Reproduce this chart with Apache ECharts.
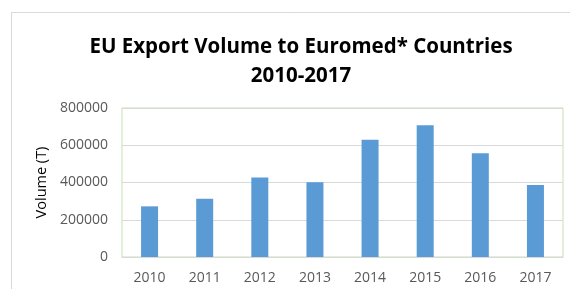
<!DOCTYPE html>
<html><head><meta charset="utf-8">
<script src="https://cdn.jsdelivr.net/npm/echarts@6/dist/echarts.min.js"></script>
<style>html,body{margin:0;padding:0;background:#fff}#c{width:570px;height:289px}</style>
</head><body><div id="c"></div>
<script>
const categories = ['2010','2011','2012','2013','2014','2015','2016','2017'];
const volumes = [272000, 313000, 427000, 402000, 630000, 707000, 557000, 387000];
const titleLines = ['EU Export Volume to Euromed* Countries', '2010-2017'];
const yAxisName = 'Volume (T)';

const chart = echarts.init(document.getElementById('c'), null, {renderer: 'canvas'});
chart.setOption({
  animation: false,
  backgroundColor: '#fff',
  graphic: [{
    type: 'rect', z: -1, silent: true,
    shape: {x: 11.5, y: 12.5, width: 600, height: 300},
    style: {fill: '#fff', stroke: '#D9D9D9', lineWidth: 1}
  }],
  title: {
    text: titleLines.join('\n'),
    left: 296, textAlign: 'center', top: 28,
    textStyle: {fontFamily: 'Open Sans', fontWeight: 'bold', fontSize: 20.5, color: '#000', lineHeight: 29}
  },
  grid: {left: 122, right: 7, top: 108, bottom: 32, show: true, borderColor: '#C5E0B4', borderWidth: 1, containLabel: false},
  xAxis: {
    type: 'category', data: categories,
    axisLine: {lineStyle: {color: '#D9D9D9'}},
    axisTick: {show: false},
    axisLabel: {color: '#595959', fontFamily: 'Open Sans', fontSize: 14, margin: 14}
  },
  yAxis: {
    type: 'value', min: 0, max: 800000, interval: 200000,
    name: yAxisName, nameLocation: 'middle', nameGap: 71,
    nameTextStyle: {color: '#000', fontFamily: 'Open Sans', fontSize: 14.5},
    axisLine: {show: false}, axisTick: {show: false},
    axisLabel: {color: '#595959', fontFamily: 'Open Sans', fontSize: 14, margin: 14, formatter: v => String(v)},
    splitLine: {lineStyle: {color: '#D9D9D9'}}
  },
  series: [{
    type: 'bar', data: volumes, barWidth: 17,
    itemStyle: {color: '#5B9BD5'}
  }]
});
</script></body></html>
